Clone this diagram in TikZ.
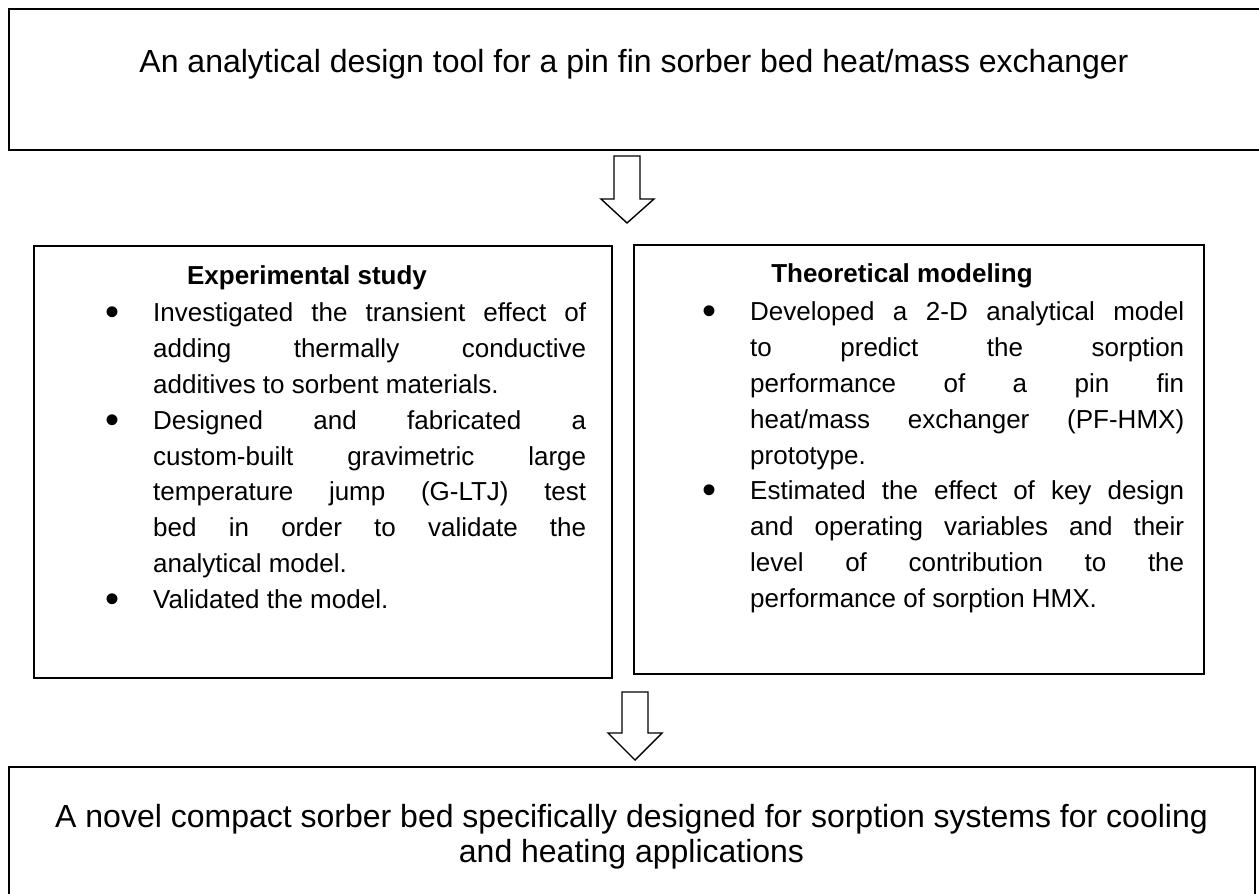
\documentclass[tikz,border=0pt]{standalone}
\usepackage{fontspec}
\setmainfont{Liberation Sans}
\begin{document}
\begin{tikzpicture}[x=1pt,y=-1pt,
  box/.style={draw=black, line width=2.2pt, inner sep=0pt, anchor=north west},
  blockarrow/.style={draw=black, line width=1.4pt, fill=white, line join=miter},
  bigtext/.style={font=\fontsize{32}{35}\selectfont, inner sep=0pt, align=center},
  headtext/.style={font=\bfseries\fontsize{26}{35.8}\selectfont, inner sep=0pt, anchor=base},
  listtext/.style={font=\fontsize{26}{35.8}\selectfont, inner sep=0pt, anchor=base west, align=justify}
]
\newcommand\bitem{\par\noindent\hangindent=48pt\hangafter=1\makebox[48pt][l]{\raisebox{-4pt}{\fontsize{40}{40}\selectfont\textbullet}}}
\clip (0,0) rectangle (1259,894);
\fill[white] (0,0) rectangle (1259,894);

% top and bottom boxes
\node[box, minimum width=1260pt, minimum height=141pt] (top) at (8,8) {};
\node[box, minimum width=1246pt, minimum height=140pt] (bot) at (8,766) {};
\node[bigtext, anchor=base] (toptxt) at (634,72)
  {An analytical design tool for a pin fin sorber bed heat/mass exchanger};
\node[bigtext, anchor=base] (bottxt1) at (631.5,827)
  {A novel compact sorber bed specifically designed for sorption systems for cooling};
\node[bigtext, anchor=base] (bottxt2) at (631.5,862) {and heating applications};

% middle boxes
\node[box, minimum width=578pt, minimum height=432pt] (exp) at (33,245) {};
\node[box, minimum width=570pt, minimum height=429pt] (theo) at (633,244) {};

\node[headtext] (exphead) at (307,284) {Experimental study};
\node[listtext, text width=481pt] (explist) at (105,286) {%
\bitem Investigated the transient effect of\linebreak adding thermally conductive\linebreak additives to sorbent materials.\par
\bitem Designed and fabricated a\linebreak custom-built gravimetric large\linebreak temperature jump (G-LTJ) test\linebreak bed in order to validate the\linebreak analytical model.\par
\bitem Validated the model.\par};

\node[headtext] (theohead) at (902,282) {Theoretical modeling};
\node[listtext, text width=482pt] (theolist) at (702,285) {%
\bitem Developed a 2-D analytical model\linebreak to predict the sorption\linebreak performance of a pin fin\linebreak heat/mass exchanger (PF-HMX)\linebreak prototype.\par
\bitem Estimated the effect of key design\linebreak and operating variables and their\linebreak level of contribution to the\linebreak performance of sorption HMX.\par};

% block arrows between the stages
\coordinate (a1) at (627,156);
\coordinate (a2) at (635,692);
\draw[blockarrow] (a1) ++(-13,0) -- ++(26,0) -- ++(0,43) -- ++(14,0) -- ++(-27,24) -- ++(-26,-24) -- ++(13,0) -- cycle;
\draw[blockarrow] (a2) ++(-13,0) -- ++(26,0) -- ++(0,41) -- ++(14,0) -- ++(-27,27) -- ++(-27,-27) -- ++(14,0) -- cycle;
\end{tikzpicture}
\end{document}
